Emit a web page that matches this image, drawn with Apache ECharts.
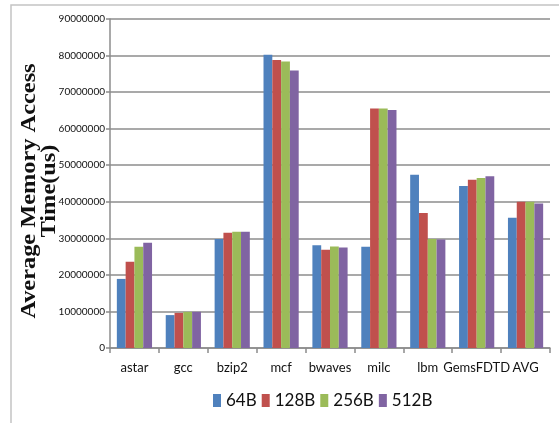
<!DOCTYPE html>
<html>
<head>
<meta charset="utf-8">
<script src="https://cdn.jsdelivr.net/npm/echarts@6/dist/echarts.min.js"></script>
<style>html,body{margin:0;padding:0;background:#fff;}#c{width:559px;height:423px;}</style>
</head>
<body>
<div id="c"></div>
<script>
var categories = ['astar', 'gcc', 'bzip2', 'mcf', 'bwaves', 'milc', 'lbm', 'GemsFDTD', 'AVG'];
var seriesNames = ['64B', '128B', '256B', '512B'];
var s64B  = [18900000,  9000000, 29800000, 80200000, 28100000, 27700000, 47400000, 44300000, 35600000];
var s128B = [23600000,  9600000, 31500000, 78800000, 26900000, 65500000, 36900000, 46000000, 40000000];
var s256B = [27700000,  9900000, 31800000, 78400000, 27800000, 65500000, 29800000, 46500000, 40000000];
var s512B = [28800000,  9900000, 31800000, 75900000, 27500000, 65100000, 29700000, 47000000, 39500000];
var yTicks = [0, 10000000, 20000000, 30000000, 40000000, 50000000, 60000000, 70000000, 80000000, 90000000];
var yTitle = 'Average Memory Access\nTime(us)';

var colors = ['#4F81BD', '#C0504D', '#9BBB59', '#8064A2'];
var sans = "Lato, 'Open Sans', sans-serif";
var allData = [s64B, s128B, s256B, s512B];

var chart = echarts.init(document.getElementById('c'), null, {renderer: 'canvas'});
chart.setOption({
  animation: false,
  color: colors,
  graphic: [{
    type: 'rect',
    shape: {x: 11, y: 5, width: 560, height: 430},
    style: {fill: 'none', stroke: '#c4c4c4', lineWidth: 1.5},
    silent: true
  }, {
    type: 'text',
    x: 40,
    y: 191,
    rotation: Math.PI / 2,
    scaleX: 1.16,
    silent: true,
    style: {
      text: yTitle,
      fontFamily: "'Liberation Serif', 'DejaVu Serif', serif",
      fontWeight: 'bold',
      fontSize: 21,
      lineHeight: 20,
      fill: '#111',
      align: 'center',
      verticalAlign: 'middle'
    }
  }],
  grid: {left: 110, right: 9, top: 19, bottom: 75},
  legend: {
    data: seriesNames,
    left: 208,
    top: 387,
    icon: 'rect',
    itemWidth: 8,
    itemHeight: 13,
    itemGap: 5,
    textStyle: {fontFamily: sans, fontSize: 17, color: '#111'}
  },
  xAxis: {
    type: 'category',
    data: categories,
    axisLine: {lineStyle: {color: '#8c8c8c', width: 1.5}},
    axisTick: {show: true, length: 5, lineStyle: {color: '#8c8c8c', width: 1.5}},
    axisLabel: {interval: 0, fontFamily: sans, fontSize: 13, color: '#111', margin: 13}
  },
  yAxis: {
    type: 'value',
    min: yTicks[0],
    max: yTicks[yTicks.length - 1],
    interval: yTicks[1] - yTicks[0],
    axisLine: {show: true, lineStyle: {color: '#8c8c8c', width: 1.5}},
    axisTick: {show: true, length: 4, lineStyle: {color: '#8c8c8c', width: 1.5}},
    splitLine: {lineStyle: {color: '#8c8c8c', width: 1.5}},
    axisLabel: {fontFamily: sans, fontSize: 10, color: '#111', margin: 5, formatter: function (v) { return String(v); }}
  },
  series: seriesNames.map(function (n, i) {
    return {
      name: n,
      type: 'bar',
      data: allData[i],
      barGap: '0%',
      barCategoryGap: '28%'
    };
  })
});
</script>
</body>
</html>
